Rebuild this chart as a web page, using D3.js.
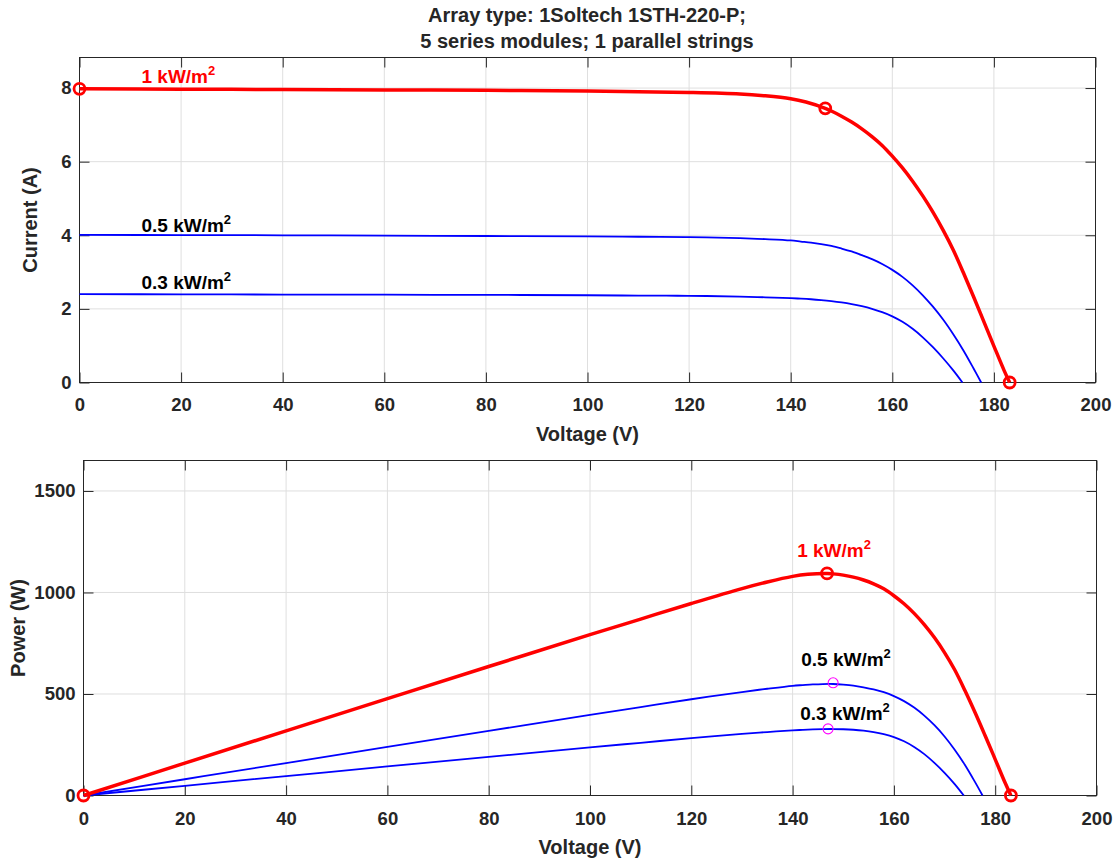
<!DOCTYPE html>
<html>
<head>
<meta charset="utf-8">
<script src="https://cdn.jsdelivr.net/npm/d3@7"></script>
<style>
  body { margin: 0; background: #fff; }
  svg text { font-family: "Liberation Sans", Arial, Helvetica, sans-serif; font-weight: bold; }
</style>
</head>
<body>
<div id="app"></div>
<script>
// chart values
const TITLE_LINES = ['Array type: 1Soltech 1STH-220-P;', '5 series modules; 1 parallel strings'];
const VOLTAGE_TICKS = [0, 20, 40, 60, 80, 100, 120, 140, 160, 180, 200];
const CURRENT_TICKS = [0, 2, 4, 6, 8];
const POWER_TICKS = [0, 500, 1000, 1500];

// 1 kW/m2
const V_1000 = [0, 20, 40, 60, 80, 100, 110, 120, 130, 135, 140, 143, 146.8, 148, 150, 152, 154, 156, 158,
  160, 162, 164, 166, 168, 170, 172, 174, 176, 178, 180, 182, 183.1];
const I_1000 = [7.98, 7.97, 7.96, 7.95, 7.94, 7.92, 7.90, 7.88, 7.84, 7.79, 7.71, 7.62, 7.45, 7.376, 7.236, 7.076, 6.892, 6.682, 6.442,
  6.15, 5.83, 5.47, 5.07, 4.63, 4.14, 3.60, 2.98, 2.33, 1.66, 0.99, 0.33, 0];
const P_1000 = [0, 159.4, 318.4, 477, 635.2, 792, 869, 945.6, 1019.2, 1051.7, 1079.4, 1089.7, 1093.7, 1091.6, 1085.4, 1075.6, 1061.4, 1042.4, 1018,
  984, 944.5, 897.1, 841.6, 777.8, 703.8, 619.2, 518.5, 410.1, 295.5, 178.2, 60.1, 0];

// 0.5 kW/m2
const V_500 = [0, 20, 40, 60, 80, 100, 110, 120, 130, 135, 140, 142, 144, 146, 148, 150, 152, 154, 156, 158,
  160, 162, 164, 166, 168, 170, 172, 174, 176, 177.5];
const I_500 = [4.01, 4.005, 4.00, 3.99, 3.98, 3.97, 3.96, 3.95, 3.92, 3.895, 3.86, 3.83, 3.80, 3.76, 3.71, 3.64, 3.56, 3.46, 3.35, 3.22,
  3.06, 2.87, 2.64, 2.37, 2.06, 1.71, 1.31, 0.87, 0.38, 0];
const P_500 = [0, 80.1, 160, 239.4, 318.4, 397, 435.6, 474, 509.6, 525.8, 540.4, 543.9, 547.2, 549, 549.1, 546, 541.1, 532.8, 522.6, 508.8,
  489.6, 464.9, 433, 393.4, 346.1, 290.7, 225.3, 151.4, 66.9, 0];

// 0.3 kW/m2
const V_300 = [0, 20, 40, 60, 80, 100, 110, 120, 130, 135, 140, 142, 144, 146, 148, 150, 152, 154, 156, 158,
  160, 162, 164, 166, 168, 170, 172, 173.8];
const I_300 = [2.40, 2.395, 2.39, 2.385, 2.38, 2.37, 2.36, 2.355, 2.335, 2.315, 2.29, 2.278, 2.262, 2.24, 2.212, 2.176, 2.13, 2.072, 2.0, 1.91,
  1.798, 1.648, 1.458, 1.228, 0.958, 0.658, 0.328, 0];
const P_300 = [0, 47.9, 95.6, 143.1, 190.4, 237, 259.6, 282.6, 303.6, 312.5, 320.6, 323.5, 325.7, 327, 327.4, 326.4, 323.8, 319.1, 312, 301.8,
  287.7, 267, 239.1, 203.8, 160.9, 111.9, 56.4, 0];

// marked points (Isc, MPP, Voc)
const IV_MARKS_1000 = [[0, 7.98], [146.8, 7.45], [183.1, 0]];
const PV_MARKS_1000 = [[0, 0], [146.8, 1094], [183.1, 0]];
const PV_MARKS_LOW = [[148, 555], [147, 328]];

const RED = '#ff0000';
const BLUE = '#0000ff';
const INK = '#262626';

function zip(xs, ys) {
  return xs.map((x, i) => [x, ys[i]]);
}

function buildAxes(svg, box, yMax, yTicks, yLabel, xPad, yLabelX) {
  const g = svg.append('g');
  const x = d3.scaleLinear().domain([0, 200]).range([box.left, box.right]);
  const y = d3.scaleLinear().domain([0, yMax]).range([box.bottom, box.top]);

  // grid
  g.append('g').selectAll('line')
    .data(VOLTAGE_TICKS.slice(1, -1))
    .join('line')
    .attr('x1', d => x(d)).attr('x2', d => x(d))
    .attr('y1', box.top).attr('y2', box.bottom)
    .style('stroke', '#dfdfdf').style('stroke-width', 1);
  g.append('g').selectAll('line')
    .data(yTicks.slice(1))
    .join('line')
    .attr('x1', box.left).attr('x2', box.right)
    .attr('y1', d => y(d)).attr('y2', d => y(d))
    .style('stroke', '#dfdfdf').style('stroke-width', 1);

  // axes with inward ticks
  const styleAxis = sel => {
    sel.selectAll('path, line').style('stroke', INK).style('stroke-width', 1);
    sel.selectAll('text').style('fill', INK).style('font-size', '18.5px');
  };
  const fmt = d3.format('d');
  g.append('g')
    .attr('transform', `translate(0,${box.bottom})`)
    .call(d3.axisBottom(x).tickValues(VOLTAGE_TICKS).tickFormat(fmt).tickSizeInner(-10).tickSizeOuter(0).tickPadding(xPad))
    .call(styleAxis);
  g.append('g')
    .attr('transform', `translate(0,${box.top})`)
    .call(d3.axisTop(x).tickValues(VOLTAGE_TICKS).tickSizeInner(-10).tickSizeOuter(0).tickFormat(''))
    .call(styleAxis);
  g.append('g')
    .attr('transform', `translate(${box.left},0)`)
    .call(d3.axisLeft(y).tickValues(yTicks).tickFormat(fmt).tickSizeInner(-10).tickSizeOuter(0).tickPadding(8))
    .call(styleAxis);
  g.append('g')
    .attr('transform', `translate(${box.right},0)`)
    .call(d3.axisRight(y).tickValues(yTicks).tickSizeInner(-10).tickSizeOuter(0).tickFormat(''))
    .call(styleAxis);
  g.selectAll('.domain').attr('d', null);
  g.append('rect')
    .attr('x', box.left).attr('y', box.top)
    .attr('width', box.right - box.left).attr('height', box.bottom - box.top)
    .style('fill', 'none').style('stroke', INK).style('stroke-width', 1);

  // axis labels
  g.append('text')
    .attr('x', (box.left + box.right) / 2)
    .attr('y', box.bottom + 58)
    .attr('text-anchor', 'middle')
    .style('font-size', '20px').style('fill', INK)
    .text('Voltage (V)');
  g.append('text')
    .attr('transform', `translate(${yLabelX},${(box.top + box.bottom) / 2}) rotate(-90)`)
    .attr('text-anchor', 'middle')
    .style('font-size', '20px').style('fill', INK)
    .text(yLabel);

  return {g, x, y};
}

function drawCurve(plot, points, color, width) {
  const line = d3.line()
    .x(d => plot.x(d[0]))
    .y(d => plot.y(d[1]))
    .curve(d3.curveCatmullRom.alpha(0.5));
  plot.g.append('path')
    .datum(points)
    .attr('d', line)
    .style('fill', 'none')
    .style('stroke', color)
    .style('stroke-width', width)
    .style('stroke-linejoin', 'round');
}

function drawMarks(plot, points, color, r, width) {
  plot.g.append('g').selectAll('circle')
    .data(points)
    .join('circle')
    .attr('cx', d => plot.x(d[0]))
    .attr('cy', d => plot.y(d[1]))
    .attr('r', r)
    .style('fill', 'none')
    .style('stroke', color)
    .style('stroke-width', width);
}

function irradianceLabel(plot, v, val, prefix, color) {
  const t = plot.g.append('text')
    .attr('x', plot.x(v))
    .attr('y', plot.y(val))
    .style('font-size', '19px')
    .style('fill', color);
  t.append('tspan').text(`${prefix} kW/m`);
  t.append('tspan').attr('dy', -8).style('font-size', '13px').text('2');
}

function buildVis() {
  const svg = d3.select('#app').append('svg')
    .attr('width', 1117)
    .attr('height', 861);

  // title
  svg.append('text')
    .attr('x', 587).attr('text-anchor', 'middle')
    .style('font-size', '20px').style('fill', INK)
    .selectAll('tspan')
    .data(TITLE_LINES)
    .join('tspan')
    .attr('x', 587)
    .attr('y', (d, i) => 22 + i * 26)
    .text(d => d);

  // I-V plot
  const top = buildAxes(svg, {left: 79.5, right: 1095.5, top: 57.5, bottom: 382.5},
    8.83, CURRENT_TICKS, 'Current (A)', 15, 37);
  drawCurve(top, zip(V_300, I_300), BLUE, 1.8);
  drawCurve(top, zip(V_500, I_500), BLUE, 1.8);
  drawCurve(top, zip(V_1000, I_1000), RED, 3.5);
  drawMarks(top, IV_MARKS_1000, RED, 5.5, 2.8);
  irradianceLabel(top, 12.2, 8.14, '1', RED);
  irradianceLabel(top, 12.2, 4.09, '0.5', '#000');
  irradianceLabel(top, 12.2, 2.53, '0.3', '#000');

  // P-V plot
  const bottom = buildAxes(svg, {left: 83.5, right: 1096.5, top: 460.5, bottom: 795.5},
    1650, POWER_TICKS, 'Power (W)', 16, 25);
  drawCurve(bottom, zip(V_300, P_300), BLUE, 1.8);
  drawCurve(bottom, zip(V_500, P_500), BLUE, 1.8);
  drawCurve(bottom, zip(V_1000, P_1000), RED, 3.5);
  drawMarks(bottom, PV_MARKS_1000, RED, 5.5, 2.8);
  drawMarks(bottom, PV_MARKS_LOW, '#ff00ff', 5, 1.1);
  irradianceLabel(bottom, 140.9, 1174, '1', RED);
  irradianceLabel(bottom, 141.7, 637, '0.5', '#000');
  irradianceLabel(bottom, 141.5, 370, '0.3', '#000');
}

buildVis();
</script>
</body>
</html>
